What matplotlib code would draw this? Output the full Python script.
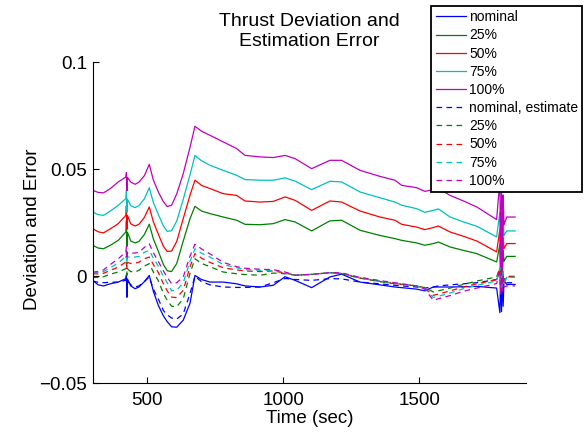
import matplotlib
matplotlib.use("Agg")
import matplotlib.pyplot as plt

plt.rcParams['font.family'] = ['Liberation Sans', 'DejaVu Sans']

# time samples (sec)
t = [300, 320, 340, 365, 394, 422, 424, 426, 428, 440, 456, 470, 490, 508, 523, 541, 560,
     574, 590, 609, 633, 658, 676, 700, 731, 780, 829, 860, 915, 964, 1007, 1044, 1105,
     1172, 1215, 1283, 1356, 1411, 1436, 1491, 1521, 1552, 1571, 1614, 1663, 1712, 1785,
     1797, 1800, 1803, 1806, 1809, 1812, 1822, 1853]

# actual thrust deviation
dev_nominal = [-0.0019, -0.0040, -0.0045, -0.0035, -0.0027, -0.0011, 0.0005, -0.0098, -0.0013,
               -0.0045, -0.0058, -0.0050, -0.0025, 0.0004, -0.0070, -0.0135, -0.0185, -0.0212,
               -0.0236, -0.0238, -0.0205, -0.0125, 0.0004, -0.0015, -0.0027, -0.0027, -0.0035,
               -0.0045, -0.0050, -0.0042, -0.0002, -0.0019, -0.0053, -0.0003, 0.0010, -0.0027,
               -0.0040, -0.0050, -0.0053, -0.0060, -0.0068, -0.0050, -0.0050, -0.0050, -0.0049,
               -0.0047, -0.0055, -0.0170, 0.0040, -0.0165, 0.0020, -0.0140, -0.0020, -0.0038,
               -0.0038]
dev_25 = [0.0145, 0.0132, 0.0129, 0.0145, 0.0168, 0.0207, 0.0260, 0.0140, 0.0205, 0.0165,
          0.0156, 0.0163, 0.0195, 0.0243, 0.0175, 0.0118, 0.0055, 0.0026, 0.0022, 0.0060,
          0.0165, 0.0270, 0.0327, 0.0305, 0.0293, 0.0277, 0.0262, 0.0243, 0.0241, 0.0246,
          0.0265, 0.0254, 0.0212, 0.0259, 0.0262, 0.0215, 0.0191, 0.0176, 0.0168, 0.0156,
          0.0145, 0.0153, 0.0160, 0.0137, 0.0121, 0.0106, 0.0067, 0.0150, -0.0030, 0.0140,
          0.0000, 0.0120, 0.0070, 0.0093, 0.0093]
dev_50 = [0.0223, 0.0208, 0.0203, 0.0222, 0.0246, 0.0285, 0.0330, 0.0220, 0.0283, 0.0245,
          0.0235, 0.0243, 0.0275, 0.0324, 0.0255, 0.0198, 0.0140, 0.0116, 0.0118, 0.0163,
          0.0270, 0.0380, 0.0449, 0.0425, 0.0410, 0.0386, 0.0378, 0.0352, 0.0347, 0.0350,
          0.0371, 0.0355, 0.0308, 0.0352, 0.0347, 0.0305, 0.0277, 0.0262, 0.0243, 0.0230,
          0.0218, 0.0228, 0.0235, 0.0207, 0.0187, 0.0165, 0.0114, 0.0220, -0.0010, 0.0200,
          0.0030, 0.0180, 0.0130, 0.0153, 0.0153]
dev_75 = [0.0300, 0.0288, 0.0285, 0.0305, 0.0332, 0.0363, 0.0400, 0.0300, 0.0360, 0.0330,
          0.0321, 0.0330, 0.0362, 0.0414, 0.0345, 0.0290, 0.0235, 0.0210, 0.0213, 0.0258,
          0.0360, 0.0475, 0.0565, 0.0540, 0.0519, 0.0495, 0.0472, 0.0452, 0.0449, 0.0449,
          0.0460, 0.0445, 0.0405, 0.0444, 0.0441, 0.0394, 0.0367, 0.0347, 0.0332, 0.0316,
          0.0299, 0.0308, 0.0315, 0.0277, 0.0254, 0.0234, 0.0184, 0.0300, 0.0040, 0.0280,
          0.0080, 0.0260, 0.0190, 0.0212, 0.0212]
dev_100 = [0.0402, 0.0392, 0.0390, 0.0410, 0.0441, 0.0464, 0.0485, 0.0400, 0.0462, 0.0440,
           0.0430, 0.0440, 0.0470, 0.0523, 0.0450, 0.0395, 0.0348, 0.0326, 0.0332, 0.0385,
           0.0480, 0.0604, 0.0701, 0.0678, 0.0659, 0.0628, 0.0597, 0.0565, 0.0558, 0.0555,
           0.0565, 0.0550, 0.0503, 0.0542, 0.0542, 0.0495, 0.0467, 0.0449, 0.0425, 0.0414,
           0.0397, 0.0405, 0.0410, 0.0378, 0.0352, 0.0324, 0.0265, 0.0450, -0.0040, 0.0420,
           0.0000, 0.0380, 0.0240, 0.0277, 0.0277]

# estimation error
est_nominal = [-0.0022, -0.0028, -0.0030, -0.0028, -0.0027, -0.0019, 0.0000, -0.0060, -0.0021,
               -0.0040, -0.0050, -0.0045, -0.0025, -0.0003, -0.0060, -0.0105, -0.0160, -0.0180,
               -0.0195, -0.0200, -0.0175, -0.0080, 0.0000, -0.0025, -0.0040, -0.0050, -0.0052,
               -0.0052, -0.0050, -0.0030, -0.0010, -0.0015, -0.0019, -0.0011, -0.0012, -0.0027,
               -0.0035, -0.0042, -0.0045, -0.0050, -0.0055, -0.0050, -0.0045, -0.0040, -0.0035,
               -0.0030, -0.0015, 0.0020, -0.0080, 0.0010, -0.0060, 0.0000, -0.0030, -0.0030,
               -0.0030]
est_25 = [-0.0006, -0.0005, -0.0002, 0.0010, 0.0020, 0.0036, 0.0065, 0.0005, 0.0034, 0.0022,
          0.0020, 0.0028, 0.0048, 0.0059, 0.0020, -0.0020, -0.0080, -0.0112, -0.0140, -0.0142,
          -0.0105, 0.0015, 0.0082, 0.0060, 0.0045, 0.0020, 0.0012, 0.0008, 0.0005, 0.0015,
          0.0012, 0.0005, 0.0009, 0.0017, 0.0012, -0.0009, -0.0025, -0.0035, -0.0038, -0.0045,
          -0.0053, -0.0073, -0.0068, -0.0055, -0.0038, -0.0022, -0.0003, 0.0040, -0.0050,
          0.0030, -0.0040, 0.0020, -0.0020, 0.0000, 0.0000]
est_50 = [0.0012, 0.0011, 0.0014, 0.0028, 0.0043, 0.0067, 0.0095, 0.0035, 0.0065, 0.0060,
          0.0062, 0.0066, 0.0082, 0.0090, 0.0055, 0.0018, -0.0035, -0.0068, -0.0097, -0.0100,
          -0.0065, 0.0045, 0.0106, 0.0085, 0.0065, 0.0040, 0.0030, 0.0025, 0.0022, 0.0025,
          0.0015, 0.0005, 0.0009, 0.0017, 0.0013, -0.0008, -0.0024, -0.0034, -0.0037, -0.0045,
          -0.0056, -0.0089, -0.0083, -0.0068, -0.0050, -0.0035, -0.0016, 0.0040, -0.0060,
          0.0030, -0.0050, 0.0020, -0.0030, -0.0003, -0.0003]
est_75 = [0.0016, 0.0017, 0.0022, 0.0040, 0.0062, 0.0093, 0.0120, 0.0060, 0.0091, 0.0088,
          0.0090, 0.0093, 0.0112, 0.0121, 0.0085, 0.0048, 0.0000, -0.0030, -0.0068, -0.0065,
          -0.0030, 0.0070, 0.0129, 0.0108, 0.0090, 0.0055, 0.0040, 0.0032, 0.0028, 0.0028,
          0.0018, 0.0005, 0.0009, 0.0017, 0.0014, -0.0007, -0.0022, -0.0032, -0.0036, -0.0045,
          -0.0058, -0.0099, -0.0093, -0.0078, -0.0058, -0.0042, -0.0022, 0.0040, -0.0070,
          0.0030, -0.0060, 0.0020, -0.0040, -0.0005, -0.0005]
est_100 = [0.0020, 0.0022, 0.0030, 0.0055, 0.0082, 0.0114, 0.0140, 0.0080, 0.0112, 0.0108,
           0.0109, 0.0112, 0.0135, 0.0152, 0.0110, 0.0070, 0.0025, -0.0005, -0.0034, -0.0030,
           -0.0003, 0.0095, 0.0150, 0.0128, 0.0105, 0.0065, 0.0045, 0.0038, 0.0033, 0.0031,
           0.0020, 0.0005, 0.0009, 0.0017, 0.0016, -0.0005, -0.0020, -0.0030, -0.0035, -0.0045,
           -0.0060, -0.0112, -0.0105, -0.0090, -0.0070, -0.0055, -0.0034, 0.0030, -0.0080,
           0.0020, -0.0070, 0.0010, -0.0050, -0.0045, -0.0045]

colors = ['#0000ff', '#008000', '#ff0000', '#00bfbf', '#bf00bf']
labels = ['nominal', '25%', '50%', '75%', '100%']
est_labels = ['nominal, estimate', '25%', '50%', '75%', '100%']

fig = plt.figure(figsize=(5.84, 4.33), dpi=100)
ax = fig.add_axes([0.1587, 0.1148, 0.742, 0.7413])

for y, c, lab in zip([dev_nominal, dev_25, dev_50, dev_75, dev_100], colors, labels):
    ax.plot(t, y, color=c, lw=0.9, label=lab)
for y, c, lab in zip([est_nominal, est_25, est_50, est_75, est_100], colors, est_labels):
    ax.plot(t, y, color=c, lw=0.9, ls=(0, (4.5, 3.5)), label=lab)

ax.set_xlim(300, 1893)
ax.set_ylim(-0.05, 0.1)
ax.set_xticks([500, 1000, 1500])
ax.set_yticks([-0.05, 0, 0.05, 0.1])
ax.set_yticklabels(['\u22120.05', '0', '0.05', '0.1'])
ax.tick_params(direction='in', length=4, labelsize=13.5, width=0.8)
ax.tick_params(axis='x', pad=6)
ax.tick_params(axis='y', pad=4)
ax.spines['top'].set_visible(False)
ax.spines['right'].set_visible(False)

ax.set_title('Thrust Deviation and\nEstimation Error', fontsize=14, pad=12)
ax.set_xlabel('Time (sec)', fontsize=13.5, labelpad=1)
ax.set_ylabel('Deviation and Error', fontsize=13.5)
ax.yaxis.set_label_coords(-0.12, 0.48)

leg = ax.legend(loc='upper right', bbox_to_anchor=(0.997, 0.986),
                bbox_transform=fig.transFigure, fontsize=10, labelspacing=0.3,
                handlelength=2.2, handletextpad=0.2, borderpad=0.3,
                borderaxespad=0, fancybox=False, framealpha=1)
leg.get_frame().set_edgecolor('black')
leg.get_frame().set_linewidth(1.3)

fig.savefig('out.png', dpi=100)
